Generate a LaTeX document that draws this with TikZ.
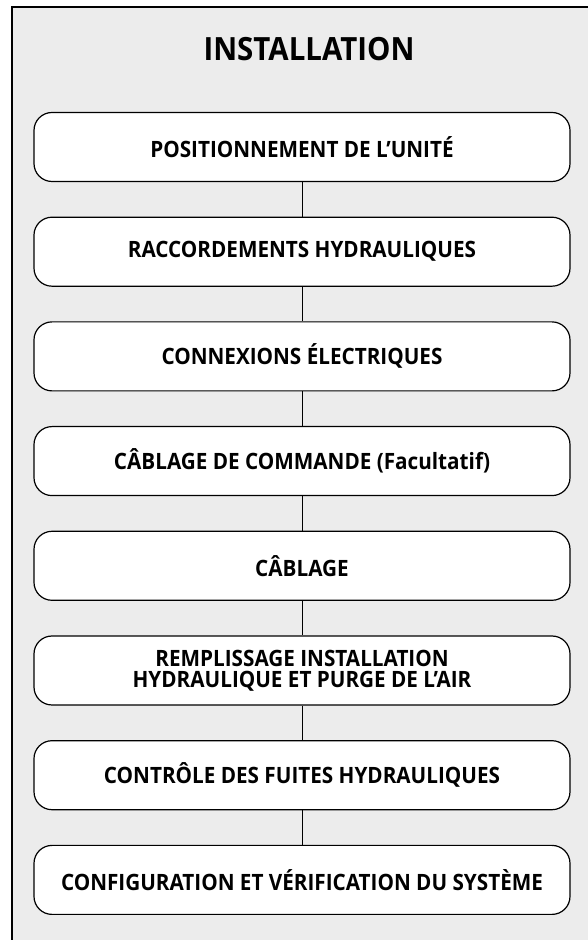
\documentclass[tikz,border=0pt]{standalone}
\usepackage{fontspec}
\setmainfont{Open Sans}[FakeStretch=0.92]
\usetikzlibrary{positioning}
\definecolor{panelgrey}{HTML}{ECECEC}

\tikzset{
  stepbox/.style={draw=black,fill=white,line width=1.2pt,rounded corners=18pt,
    minimum width=536pt,minimum height=69pt,align=center,inner sep=2pt,
    font=\fontsize{22.5}{21}\selectfont\bfseries},
  link/.style={draw=black,line width=1pt}
}

\begin{document}
\begin{tikzpicture}[x=1pt,y=1pt,node distance=34.5pt]
  \useasboundingbox (0,0) rectangle (587,940);
  % Grey panel, clipped on the right and at the bottom.
  \fill[panelgrey] (12,-10) rectangle (600,933);
  \draw[line width=1.3pt] (12,-10) -- (12,933) -- (600,933);

  \node[font=\fontsize{32}{32}\selectfont\bfseries] (title) at (309,891) {INSTALLATION};

  % Steps.
  \node[stepbox] (pos) at (302,793) {POSITIONNEMENT DE L’UNITÉ};
  \node[stepbox,below=of pos] (hyd) {RACCORDEMENTS HYDRAULIQUES};
  \node[stepbox,below=of hyd] (elec) {CONNEXIONS ÉLECTRIQUES};
  \node[stepbox,below=of elec] (cmd) {CÂBLAGE DE COMMANDE (Facultatif)};
  \node[stepbox,below=of cmd] (cab) {CÂBLAGE};
  \node[stepbox,below=of cab] (fill) {REMPLISSAGE INSTALLATION\\HYDRAULIQUE ET PURGE DE L’AIR};
  \node[stepbox,below=of fill] (leak) {CONTRÔLE DES FUITES HYDRAULIQUES};
  \node[stepbox,below=of leak] (conf) {CONFIGURATION ET VÉRIFICATION DU SYSTÈME};

  % Connectors.
  \foreach \a/\b in {pos/hyd,hyd/elec,elec/cmd,cmd/cab,cab/fill,fill/leak,leak/conf}
    \draw[link] (\a.south) -- (\b.north);
\end{tikzpicture}
\end{document}
